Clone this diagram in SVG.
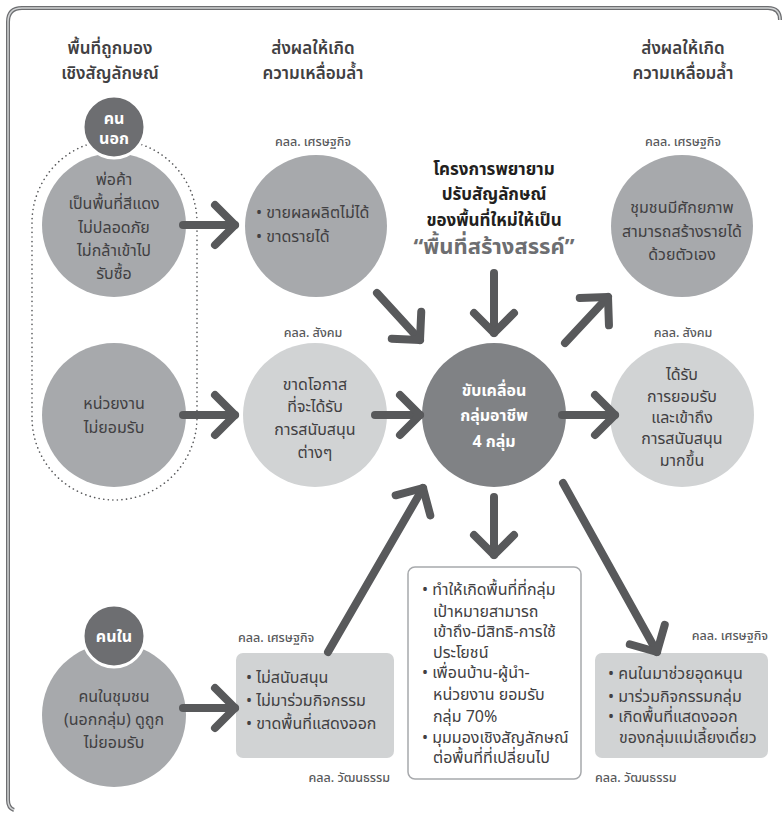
<svg xmlns="http://www.w3.org/2000/svg" width="783" height="814" viewBox="0 0 783 814">
<defs>
<style>
text{font-family:"Noto Sans","Noto Sans Thai","DejaVu Sans",sans-serif;fill:#414042}
.hd{font-size:17px;font-weight:600;text-anchor:middle}
.lb{font-size:12.5px;font-weight:500;fill:#58595b}
.c{text-anchor:middle}
.bd{font-size:16px}
.w{fill:#fff;font-weight:700;font-size:16px;text-anchor:middle}
.mid{fill:#a7a9ac}
.dk{fill:#6d6e71;stroke:#fff;stroke-width:3}
.lt{fill:#d1d3d4}
.arr{fill:none;stroke:#58595b;stroke-width:8;stroke-linecap:round;stroke-linejoin:round}
.frame1{fill:none;stroke:#6d6e71;stroke-width:4}
.frame2{fill:none;stroke:#d1d3d4;stroke-width:1.5}
</style>
<marker id="ah" viewBox="-30 -30 40 60" refX="0" refY="0" markerWidth="40" markerHeight="60" markerUnits="userSpaceOnUse" orient="auto" overflow="visible">
<path d="M-20,-20 L0,0 L-20,20" fill="none" stroke="#58595b" stroke-width="8" stroke-linecap="round" stroke-linejoin="round"/>
</marker>
</defs>
<rect width="783" height="814" fill="#fff"/>
<g id="frame">
<path class="frame1" d="M780,20 Q780,8 768,8 L22,8 Q8,8 8,22 L8,800 Q8,808 14,810"/>
<path class="frame2" d="M780,20 Q780,8 768,8 L22,8 Q8,8 8,22 L8,800 Q8,808 14,810"/>
</g>
<g id="headers">
<text class="hd" x="110" y="54">พื้นที่ถูกมอง</text>
<text class="hd" x="110" y="79">เชิงสัญลักษณ์</text>
<text class="hd" x="313" y="54">ส่งผลให้เกิด</text>
<text class="hd" x="313" y="79">ความเหลื่อมล้ำ</text>
<text class="hd" x="683" y="54">ส่งผลให้เกิด</text>
<text class="hd" x="683" y="79">ความเหลื่อมล้ำ</text>
</g>
<g id="outsiders-group">
<rect x="32" y="140" width="165" height="360" rx="82.5" fill="none" stroke="#58595b" stroke-width="1.6" stroke-dasharray="0.1 4.5" stroke-linecap="round"/>
</g>
<g id="n-trader">
<circle class="mid" cx="114" cy="225" r="72"/>
<text class="c bd" x="114" y="185">พ่อค้า</text>
<text class="c bd" x="114" y="209">เป็นพื้นที่สีแดง</text>
<text class="c bd" x="114" y="233">ไม่ปลอดภัย</text>
<text class="c bd" x="114" y="256">ไม่กล้าเข้าไป</text>
<text class="c bd" x="114" y="279">รับซื้อ</text>
</g>
<g id="n-outsider">
<circle class="dk" cx="114" cy="127" r="31"/>
<text class="w" x="114" y="124">คน</text>
<text class="w" x="114" y="144">นอก</text>
</g>
<g id="n-agency">
<circle class="mid" cx="114" cy="415" r="72"/>
<text class="c bd" x="114" y="409">หน่วยงาน</text>
<text class="c bd" x="114" y="433">ไม่ยอมรับ</text>
</g>
<g id="n-econ1">
<text class="lb c" x="313" y="146">คลล. เศรษฐกิจ</text>
<circle class="mid" cx="316" cy="226" r="71"/>
<text class="bd" x="256" y="218">• ขายผลผลิตไม่ได้</text>
<text class="bd" x="256" y="242">• ขาดรายได้</text>
</g>
<g id="n-social1">
<text class="lb c" x="313" y="337">คลล. สังคม</text>
<circle class="lt" cx="315" cy="415" r="72"/>
<text class="c bd" x="315" y="390">ขาดโอกาส</text>
<text class="c bd" x="315" y="412">ที่จะได้รับ</text>
<text class="c bd" x="315" y="435">การสนับสนุน</text>
<text class="c bd" x="315" y="458">ต่างๆ</text>
</g>
<g id="n-title">
<text class="c" x="494" y="175" style="font-size:17px;font-weight:700;fill:#231f20">โครงการพยายาม</text>
<text class="c" x="494" y="200" style="font-size:17px;font-weight:700;fill:#231f20">ปรับสัญลักษณ์</text>
<text class="c" x="494" y="226" style="font-size:17px;font-weight:700;fill:#231f20">ของพื้นที่ใหม่ให้เป็น</text>
<text class="c" x="494" y="254" style="font-size:22px;font-weight:700;fill:#6d6e71">“พื้นที่สร้างสรรค์”</text>
</g>
<g id="n-center">
<circle cx="494" cy="415" r="72" fill="#808285"/>
<text class="w" x="494" y="396">ขับเคลื่อน</text>
<text class="w" x="494" y="421">กลุ่มอาชีพ</text>
<text class="w" x="494" y="447">4 กลุ่ม</text>
</g>
<g id="n-econ2">
<text class="lb c" x="683" y="146">คลล. เศรษฐกิจ</text>
<circle class="mid" cx="682" cy="226" r="71"/>
<text class="c bd" x="682" y="213">ชุมชนมีศักยภาพ</text>
<text class="c bd" x="682" y="237">สามารถสร้างรายได้</text>
<text class="c bd" x="682" y="260">ด้วยตัวเอง</text>
</g>
<g id="n-social2">
<text class="lb c" x="683" y="337">คลล. สังคม</text>
<circle class="lt" cx="682" cy="415" r="72"/>
<text class="c bd" x="682" y="380">ได้รับ</text>
<text class="c bd" x="682" y="402">การยอมรับ</text>
<text class="c bd" x="682" y="423">และเข้าถึง</text>
<text class="c bd" x="682" y="444">การสนับสนุน</text>
<text class="c bd" x="682" y="466">มากขึ้น</text>
</g>
<g id="n-community">
<circle class="mid" cx="114" cy="715" r="72"/>
<text class="c bd" x="114" y="702">คนในชุมชน</text>
<text class="c bd" x="114" y="725">(นอกกลุ่ม) ดูถูก</text>
<text class="c bd" x="114" y="748">ไม่ยอมรับ</text>
</g>
<g id="n-insider">
<circle class="dk" cx="114" cy="636" r="31"/>
<text class="w" x="114" y="642">คนใน</text>
</g>
<g id="n-box1">
<text class="lb" x="238" y="642">คลล. เศรษฐกิจ</text>
<rect class="lt" x="236" y="653" width="158" height="105" rx="7"/>
<text class="bd" x="246" y="683">• ไม่สนับสนุน</text>
<text class="bd" x="246" y="706">• ไม่มาร่วมกิจกรรม</text>
<text class="bd" x="246" y="729">• ขาดพื้นที่แสดงออก</text>
<text class="lb" x="390" y="782" text-anchor="end">คลล. วัฒนธรรม</text>
</g>
<g id="n-box2">
<rect x="408" y="567" width="173" height="212" rx="7" fill="#fff" stroke="#a7a9ac" stroke-width="1.5"/>
<text class="bd" x="422" y="595">• ทำให้เกิดพื้นที่ที่กลุ่ม</text>
<text class="bd" x="433" y="617">เป้าหมายสามารถ</text>
<text class="bd" x="433" y="637">เข้าถึง-มีสิทธิ-การใช้</text>
<text class="bd" x="433" y="658">ประโยชน์</text>
<text class="bd" x="422" y="678">• เพื่อนบ้าน-ผู้นำ-</text>
<text class="bd" x="433" y="700">หน่วยงาน ยอมรับ</text>
<text class="bd" x="433" y="722">กลุ่ม 70%</text>
<text class="bd" x="422" y="743">• มุมมองเชิงสัญลักษณ์</text>
<text class="bd" x="433" y="763">ต่อพื้นที่ที่เปลี่ยนไป</text>
</g>
<g id="n-box3">
<text class="lb" x="768" y="640" text-anchor="end">คลล. เศรษฐกิจ</text>
<rect class="lt" x="595" y="653" width="173" height="105" rx="7"/>
<text class="bd" x="608" y="679">• คนในมาช่วยอุดหนุน</text>
<text class="bd" x="608" y="702">• มาร่วมกิจกรรมกลุ่ม</text>
<text class="bd" x="608" y="722">• เกิดพื้นที่แสดงออก</text>
<text class="bd" x="619" y="743">ของกลุ่มแม่เลี้ยงเดี่ยว</text>
<text class="lb" x="595" y="782">คลล. วัฒนธรรม</text>
</g>
<g id="connectors">
<path class="arr" d="M183,225 L235,225" marker-end="url(#ah)"/>
<path class="arr" d="M183,415 L235,415" marker-end="url(#ah)"/>
<path class="arr" d="M183,708 L235,708" marker-end="url(#ah)"/>
<path class="arr" d="M375,415 L420,415" marker-end="url(#ah)"/>
<path class="arr" d="M562,415 L615,415" marker-end="url(#ah)"/>
<path class="arr" d="M377,293 L420,340" marker-end="url(#ah)"/>
<path class="arr" d="M494,273 L494,333" marker-end="url(#ah)"/>
<path class="arr" d="M565,343 L608,297" marker-end="url(#ah)"/>
<path class="arr" d="M328,652 L423,488" marker-end="url(#ah)"/>
<path class="arr" d="M494,497 L494,555" marker-end="url(#ah)"/>
<path class="arr" d="M563,483 L657,652" marker-end="url(#ah)"/>
</g>
</svg>
